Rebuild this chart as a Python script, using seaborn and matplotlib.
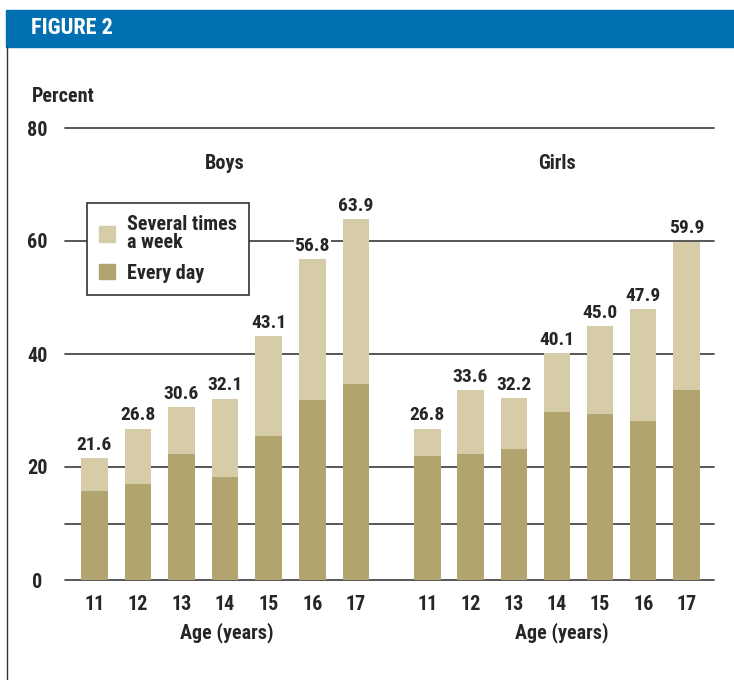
"""
Figure 2: share of boys and girls (age 11-17), stacked bars
'every day' inside 'several times a week'. Saves out.png.
"""

import matplotlib.pyplot as plt
import pandas as pd
import seaborn as sns
from matplotlib import font_manager
from matplotlib.lines import Line2D
from matplotlib.patches import Patch, Rectangle

AGES        = ["11", "12", "13", "14", "15", "16", "17"]
BOYS_TOTAL  = [21.6, 26.8, 30.6, 32.1, 43.1, 56.8, 63.9]
BOYS_DAILY  = [15.8, 17.0, 22.3, 18.2, 25.5, 31.8, 34.7]
GIRLS_TOTAL = [26.8, 33.6, 32.2, 40.1, 45.0, 47.9, 59.9]
GIRLS_DAILY = [21.9, 22.3, 23.2, 29.7, 29.4, 28.2, 33.6]
GRID_AT     = [0, 10, 20, 40, 60, 80]
YTICKS      = [0, 20, 40, 60, 80]

LIGHT = "#d6cda8"
DARK  = "#b1a46e"
GRID  = "#4a4a4a"
BLUE  = "#0070b2"

W, H = 734, 680
FS = 14.5

sns.set_style("white")
# condensed bold face close to the original Helvetica Condensed
installed = {f.name for f in font_manager.fontManager.ttflist}
prefs = ["Roboto Condensed", "Fira Sans Condensed", "IBM Plex Sans Condensed",
         "Liberation Sans Narrow", "Liberation Sans"]
plt.rcParams["font.family"] = [f for f in prefs if f in installed][:1] + ["DejaVu Sans"]
plt.rcParams["font.weight"] = "bold"
plt.rcParams["axes.labelweight"] = "bold"


def fx(px):
    return px / W


def fy(py):
    return 1 - py / H


def draw_panel(ax, total, daily, title, xlim, label_x):
    df = pd.DataFrame({"age": AGES, "total": total, "daily": daily})
    for y in GRID_AT:
        ax.axhline(y, color=GRID, lw=1.3, zorder=0, clip_on=False)

    sns.barplot(data=df, x="age", y="total", color=LIGHT, saturation=1,
                width=0.61, linewidth=0, ax=ax, zorder=2)
    sns.barplot(data=df, x="age", y="daily", color=DARK, saturation=1,
                width=0.61, linewidth=0, ax=ax, zorder=3)

    ax.bar_label(ax.containers[0], labels=[f"{v:.1f}" for v in total],
                 padding=3, fontsize=FS - 0.5, zorder=4,
                 bbox=dict(fc="white", ec="none", pad=0.6))
    ax.text(3.0, 73.8, title, ha="center", va="center", fontsize=FS)

    ax.set_xlim(*xlim)
    ax.set_ylim(0, 80)
    for s in ax.spines.values():
        s.set_visible(False)
    ax.tick_params(axis="x", length=0, pad=11, labelsize=FS)
    ax.set_ylabel("")
    ax.set_xlabel("Age (years)", fontsize=FS)
    ax.xaxis.set_label_coords(label_x, -0.093)


fig = plt.figure(figsize=(W / 100, H / 100), dpi=100)

# header band + left frame line
fig.patches.append(Rectangle((fx(6), fy(47)), 1 - fx(6), fy(10) - fy(47),
                             transform=fig.transFigure, color=BLUE, zorder=0))
fig.lines.append(Line2D([fx(6.5), fx(6.5)], [fy(47), 0], transform=fig.transFigure,
                        color="#333333", lw=1))
fig.text(fx(31), fy(28.5), "FIGURE 2", color="white", fontsize=16,
         ha="left", va="center")
fig.text(fx(32), fy(96), "Percent", fontsize=FS, ha="left", va="center")

bottom, top = fy(580), fy(128)
ax_b = fig.add_axes([fx(65), bottom, fx(392) - fx(65), top - bottom])
ax_g = fig.add_axes([fx(392), bottom, fx(714) - fx(392), top - bottom])

draw_panel(ax_b, BOYS_TOTAL, BOYS_DAILY, "Boys", (-0.67, 6.83), 0.496)
draw_panel(ax_g, GIRLS_TOTAL, GIRLS_DAILY, "Girls", (-0.82, 6.64), 0.528)

ax_b.set_yticks(YTICKS)
ax_b.set_yticklabels([str(t) for t in YTICKS], ha="center")
ax_b.tick_params(axis="y", length=0, pad=20, labelsize=FS)
ax_g.set_yticks([])

handles = [Patch(color=LIGHT), Patch(color=DARK)]
leg = ax_b.legend(handles, ["Several times\na week", "Every day"],
                  loc="upper left", bbox_to_anchor=(0.067, 0.834),
                  borderaxespad=0, fontsize=FS, frameon=True, fancybox=False,
                  framealpha=1, handlelength=0.8, handleheight=0.8,
                  handletextpad=0.6, labelspacing=0.6, borderpad=0.6)
for t in leg.get_texts():
    t.set_linespacing(0.9)
leg.get_frame().set_edgecolor("#333333")
leg.get_frame().set_linewidth(1.2)
leg.set_zorder(5)

fig.savefig("out.png", dpi=100)
